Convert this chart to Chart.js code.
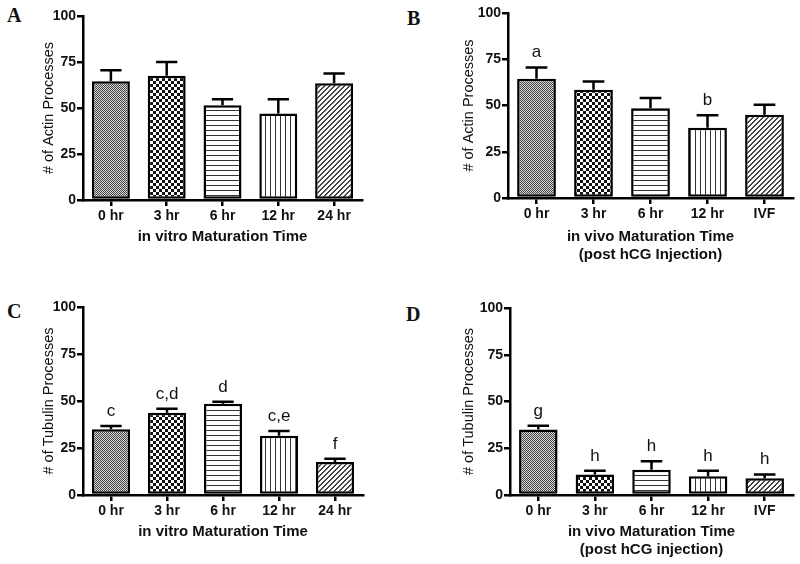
<!DOCTYPE html>
<html>
<head>
<title>Actin and tubulin processes during oocyte maturation</title>
<script src="https://cdn.jsdelivr.net/npm/chart.js"></script>
<style>
    body { margin: 0; background: #fff; }
    .wrap { position: relative; width: 800px; height: 564px; }
    .wrap canvas { position: absolute; }
    .tag {
        position: absolute;
        font-family: 'Liberation Serif', 'Times New Roman', serif;
        font-weight: bold;
        font-size: 20px;
        line-height: 20px;
        color: #111;
    }
</style>
</head>
<body>
<div class="wrap">
    <div class="tag" style="left:7px;top:5px">A</div>
    <div class="tag" style="left:407px;top:8px">B</div>
    <div class="tag" style="left:7px;top:301px">C</div>
    <div class="tag" style="left:406px;top:304px">D</div>
    <canvas id="chartA" width="400" height="270" style="left:0;top:0"></canvas>
    <canvas id="chartB" width="400" height="270" style="left:400px;top:0"></canvas>
    <canvas id="chartC" width="400" height="294" style="left:0;top:270px"></canvas>
    <canvas id="chartD" width="400" height="294" style="left:400px;top:270px"></canvas>
</div>

<script>
    // categories
    const vitroLabels = ['0 hr', '3 hr', '6 hr', '12 hr', '24 hr'];
    const vivoLabels = ['0 hr', '3 hr', '6 hr', '12 hr', 'IVF'];
    const yTicks = [0, 25, 50, 75, 100];

    // A: actin, in vitro
    const actinVitro = [64.5, 67.5, 51.5, 47, 63.5];
    const actinVitroSem = [6, 7.5, 3.3, 7.8, 5.3];
    const actinVitroSig = ['', '', '', '', ''];

    // B: actin, in vivo
    const actinVivo = [64.5, 58.5, 48.5, 38, 45];
    const actinVivoSem = [6.1, 4.5, 5.5, 6.7, 5.4];
    const actinVivoSig = ['a', '', '', 'b', ''];

    // C: tubulin, in vitro
    const tubVitro = [35, 43.8, 48.5, 31.5, 17.5];
    const tubVitroSem = [1.7, 2.1, 1.1, 2.5, 1.8];
    const tubVitroSig = ['c', 'c,d', 'd', 'c,e', 'f'];

    // D: tubulin, in vivo
    const tubVivo = [35, 11, 13.5, 10, 9];
    const tubVivoSem = [2, 2, 4.5, 3, 2];
    const tubVivoSig = ['g', 'h', 'h', 'h', 'h'];

    Chart.defaults.font.family = "'Liberation Sans', Arial, sans-serif";
    Chart.defaults.color = '#111';

    // fill patterns, one per category
    function tile(w, h, draw) {
        const c = document.createElement('canvas');
        c.width = w; c.height = h;
        const g = c.getContext('2d');
        g.fillStyle = '#fff';
        g.fillRect(0, 0, w, h);
        draw(g);
        return c;
    }
    const probe = document.createElement('canvas').getContext('2d');
    const patterns = [
        // fine gray checker
        tile(2, 2, g => {
            g.fillStyle = '#d8d8d8'; g.fillRect(0, 0, 2, 2);
            g.fillStyle = '#444'; g.fillRect(0, 0, 1, 1); g.fillRect(1, 1, 1, 1);
        }),
        // coarse checker
        tile(6, 6, g => {
            g.fillStyle = '#111'; g.fillRect(0, 0, 3, 3); g.fillRect(3, 3, 3, 3);
        }),
        // horizontal lines
        tile(5, 5, g => { g.fillStyle = '#333'; g.fillRect(0, 0, 5, 1); }),
        // vertical lines
        tile(5, 5, g => { g.fillStyle = '#333'; g.fillRect(0, 0, 1, 5); }),
        // diagonal lines
        tile(5, 5, g => {
            g.fillStyle = '#444';
            for (let i = 0; i < 5; i++) {
                g.fillRect(i, 4 - i, 1, 1);
                g.fillRect((i + 1) % 5, 4 - i, 1, 1);
            }
        })
    ].map(c => probe.createPattern(c, 'repeat'));

    // error bars (upper only) and significance letters
    const errorBars = {
        id: 'errorBars',
        afterDatasetsDraw(chart, args, opts) {
            const ctx = chart.ctx;
            const meta = chart.getDatasetMeta(0);
            const y = chart.scales.y;
            ctx.save();
            ctx.strokeStyle = '#000';
            ctx.lineWidth = 2.5;
            meta.data.forEach((bar, i) => {
                const v = chart.data.datasets[0].data[i];
                const top = y.getPixelForValue(v + opts.sem[i]);
                const base = y.getPixelForValue(v);
                const half = bar.width * 0.28;
                ctx.beginPath();
                ctx.moveTo(bar.x, base);
                ctx.lineTo(bar.x, top);
                ctx.moveTo(bar.x - half, top);
                ctx.lineTo(bar.x + half, top);
                ctx.stroke();
                if (opts.sig[i]) {
                    ctx.fillStyle = '#111';
                    ctx.font = "17px 'Liberation Sans', Arial, sans-serif";
                    ctx.textAlign = 'center';
                    ctx.textBaseline = 'alphabetic';
                    ctx.fillText(opts.sig[i], bar.x, top - 10);
                }
            });
            ctx.restore();
        }
    };

    function makePanel(id, labels, values, sem, sig, yTitle, xTitle, box) {
        return new Chart(document.getElementById(id), {
            type: 'bar',
            data: {
                labels: labels,
                datasets: [{
                    data: values,
                    backgroundColor: patterns,
                    borderColor: '#000',
                    borderWidth: 2.5,
                    borderSkipped: false,
                    barPercentage: 0.68,
                    categoryPercentage: 1
                }]
            },
            plugins: [errorBars],
            options: {
                responsive: false,
                animation: false,
                devicePixelRatio: 1,
                layout: { padding: box.pad },
                plugins: {
                    legend: { display: false },
                    tooltip: { enabled: false },
                    errorBars: { sem: sem, sig: sig }
                },
                scales: {
                    x: {
                        afterFit: s => { s.height = box.xh; },
                        border: { color: '#000', width: 2.5 },
                        grid: {
                            offset: false,
                            drawOnChartArea: false,
                            color: '#000',
                            lineWidth: 2.5,
                            tickLength: 6
                        },
                        ticks: {
                            maxRotation: 0,
                            padding: 2,
                            color: '#111',
                            font: { size: 14, weight: 'bold' }
                        },
                        title: {
                            display: true,
                            text: xTitle,
                            color: '#111',
                            font: { size: 15, weight: 'bold', lineHeight: 1.2 }
                        }
                    },
                    y: {
                        min: 0,
                        max: 100,
                        afterFit: s => { s.width = box.yw; },
                        afterBuildTicks: s => { s.ticks = yTicks.map(v => ({ value: v })); },
                        border: { color: '#000', width: 2.5 },
                        grid: {
                            drawOnChartArea: false,
                            color: '#000',
                            lineWidth: 2.5,
                            tickLength: 6
                        },
                        ticks: {
                            padding: 1,
                            color: '#111',
                            font: { size: 14, weight: 'bold' }
                        },
                        title: {
                            display: true,
                            text: yTitle,
                            color: '#111',
                            font: { size: 14.5, lineHeight: 1.2 }
                        }
                    }
                }
            }
        });
    }

    makePanel('chartA', vitroLabels, actinVitro, actinVitroSem, actinVitroSig,
        '# of Actin Processes', 'in vitro Maturation Time',
        { pad: { left: 36, right: 38, top: 16, bottom: 20 }, yw: 47, xh: 50 });

    makePanel('chartB', vivoLabels, actinVivo, actinVivoSem, actinVivoSig,
        '# of Actin Processes', ['in vivo Maturation Time', '(post hCG Injection)'],
        { pad: { left: 56, right: 7, top: 13, bottom: 2 }, yw: 52, xh: 70 });

    makePanel('chartC', vitroLabels, tubVitro, tubVitroSem, tubVitroSig,
        '# of Tubulin Processes', 'in vitro Maturation Time',
        { pad: { left: 36, right: 37, top: 37, bottom: 19 }, yw: 47, xh: 50 });

    makePanel('chartD', vivoLabels, tubVivo, tubVivoSem, tubVivoSig,
        '# of Tubulin Processes', ['in vivo Maturation Time', '(post hCG injection)'],
        { pad: { left: 56, right: 7, top: 38, bottom: 1 }, yw: 54, xh: 68 });
</script>
</body>
</html>
